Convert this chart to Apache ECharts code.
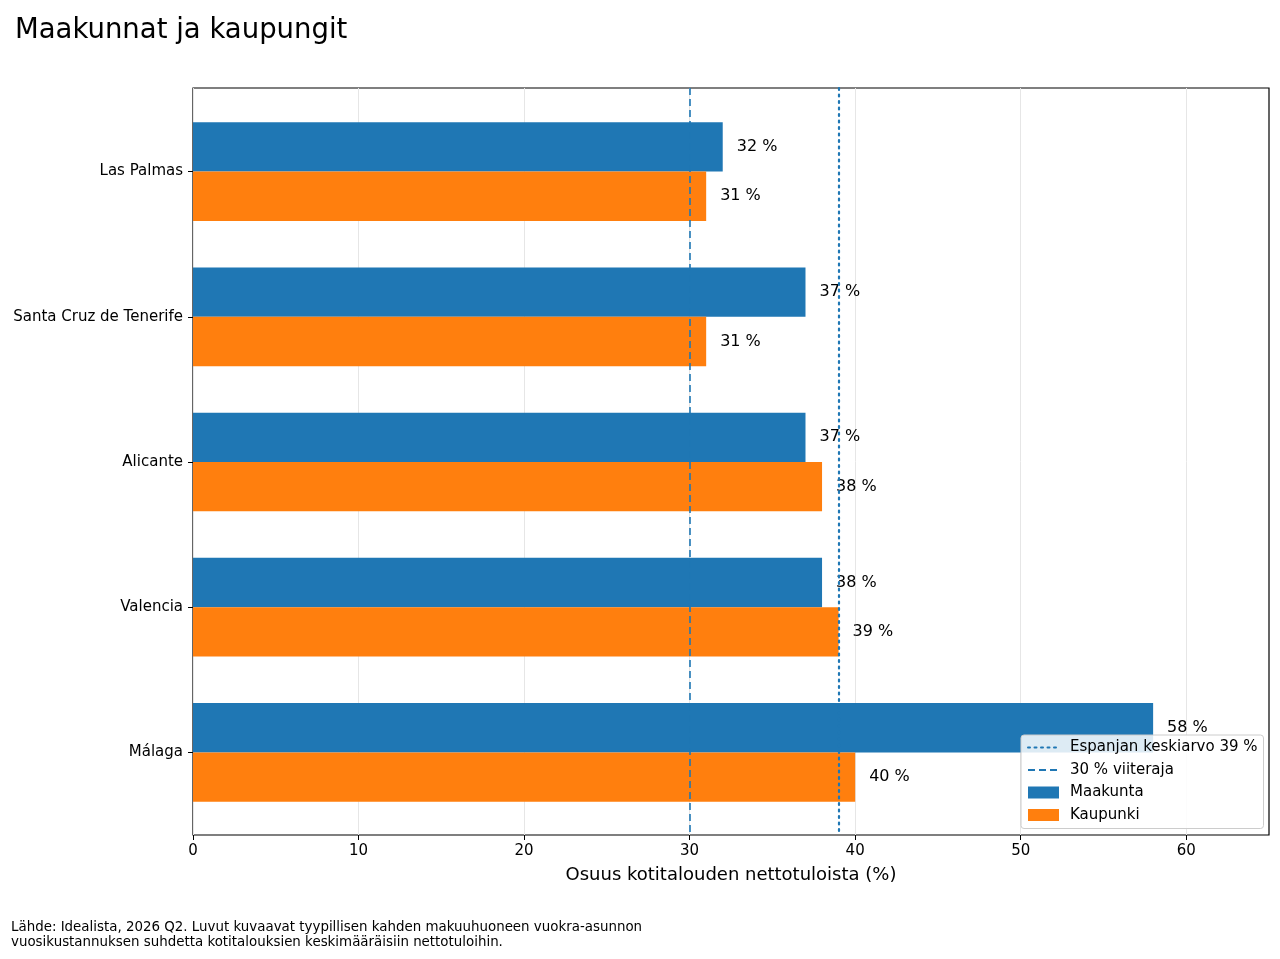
<!DOCTYPE html>
<html>
<head>
<meta charset="utf-8">
<script src="https://cdn.jsdelivr.net/npm/echarts@6/dist/echarts.min.js"></script>
<style>
  html, body { margin: 0; padding: 0; background: #fff; }
  #chart { width: 1280px; height: 959px; }
</style>
</head>
<body>
<div id="chart"></div>
<script>
// data
var categories = ['Las Palmas', 'Santa Cruz de Tenerife', 'Alicante', 'Valencia', 'Málaga'];
var maakunta = [32, 37, 37, 38, 58];
var kaupunki = [31, 31, 38, 39, 40];
var spainAvg = 39;
var refLimit = 30;
var xTicks = [0, 10, 20, 30, 40, 50, 60];

var FONT = 'DejaVu Sans';
var BLUE = '#1f77b4';
var ORANGE = '#ff7f0e';

var chart = echarts.init(document.getElementById('chart'));

var option = {
    animation: false,
    textStyle: { fontFamily: FONT, color: '#000' },
    title: [
        {
            text: 'Maakunnat ja kaupungit',
            left: 15, top: 17, padding: 0,
            textStyle: { fontFamily: FONT, fontSize: 27.5, fontWeight: 'normal', color: '#000' }
        },
        {
            text: 'Lähde: Idealista, 2026 Q2. Luvut kuvaavat tyypillisen kahden makuuhuoneen vuokra-asunnon\nvuosikustannuksen suhdetta kotitalouksien keskimääräisiin nettotuloihin.',
            left: 11, top: 920, padding: 0,
            textStyle: { fontFamily: FONT, fontSize: 13.4, fontWeight: 'normal', color: '#000', lineHeight: 15 }
        }
    ],
    legend: {
        orient: 'vertical',
        left: 1021, top: 735,
        backgroundColor: 'rgba(255,255,255,0.85)',
        borderColor: '#ccc', borderWidth: 1, borderRadius: 3,
        padding: [5, 6, 6, 6],
        itemWidth: 31, itemHeight: 12, itemGap: 7.5,
        textStyle: { fontFamily: FONT, fontSize: 15, color: '#000', padding: [0, 0, 0, 6] },
        data: [
            { name: 'Espanjan keskiarvo 39 %', itemStyle: { opacity: 0 } },
            { name: '30 % viiteraja', itemStyle: { opacity: 0 } },
            { name: 'Maakunta', icon: 'rect' },
            { name: 'Kaupunki', icon: 'rect' }
        ]
    },
    grid: [
        // frame grid (axes box, gridlines, reference lines)
        { left: 193, right: 11, top: 88, bottom: 124, show: true, borderColor: '#000', borderWidth: 1.2, backgroundColor: 'transparent' },
        // bars grid (inset like matplotlib margins)
        { left: 193, right: 11, top: 99, bottom: 134 }
    ],
    xAxis: [
        {
            gridIndex: 0, type: 'value', min: 0, max: 65, interval: 10,
            name: 'Osuus kotitalouden nettotuloista (%)',
            nameLocation: 'middle', nameGap: 31,
            nameTextStyle: { fontFamily: FONT, fontSize: 18, color: '#000' },
            axisLine: { show: false },
            axisTick: { show: true, length: 5, customValues: xTicks, lineStyle: { color: '#000' } },
            axisLabel: { fontFamily: FONT, fontSize: 15, color: '#000', margin: 9, customValues: xTicks },
            splitLine: { show: true, lineStyle: { color: '#e6e6e6', width: 1 } }
        },
        { gridIndex: 1, type: 'value', min: 0, max: 65, show: false }
    ],
    yAxis: [
        { gridIndex: 0, type: 'category', data: categories, inverse: true, show: false },
        {
            gridIndex: 1, type: 'category', data: categories, inverse: true,
            axisLine: { show: false },
            axisTick: { show: true, length: 5, alignWithLabel: true, lineStyle: { color: '#000' } },
            axisLabel: { fontFamily: FONT, fontSize: 15, color: '#000', margin: 10 }
        }
    ],
    series: [
        {
            name: 'Maakunta', type: 'bar', xAxisIndex: 1, yAxisIndex: 1,
            data: maakunta, barWidth: '34%', barGap: '0%', z: 2,
            itemStyle: { color: BLUE },
            label: { show: true, position: 'right', distance: 14, formatter: '{c} %', fontFamily: FONT, fontSize: 16, color: '#000' }
        },
        {
            name: 'Kaupunki', type: 'bar', xAxisIndex: 1, yAxisIndex: 1,
            data: kaupunki, barWidth: '34%', barGap: '0%', z: 2,
            itemStyle: { color: ORANGE },
            label: { show: true, position: 'right', distance: 14, formatter: '{c} %', fontFamily: FONT, fontSize: 16, color: '#000' }
        },
        {
            name: 'Espanjan keskiarvo 39 %', type: 'line', xAxisIndex: 0, yAxisIndex: 0,
            data: [], symbol: 'none', z: 5,
            itemStyle: { color: BLUE },
            lineStyle: { color: BLUE, width: 2.2, type: [2, 4.5], cap: 'round' },
            markLine: {
                silent: true, symbol: 'none', label: { show: false },
                lineStyle: { color: BLUE, width: 2.2, type: [2, 4.5], cap: 'round' },
                data: [{ xAxis: spainAvg }]
            }
        },
        {
            name: '30 % viiteraja', type: 'line', xAxisIndex: 0, yAxisIndex: 0,
            data: [], symbol: 'none', z: 5,
            itemStyle: { color: BLUE },
            lineStyle: { color: BLUE, width: 1.6, type: [7, 4] },
            markLine: {
                silent: true, symbol: 'none', label: { show: false },
                lineStyle: { color: BLUE, width: 1.6, type: [7, 4] },
                data: [{ xAxis: refLimit }]
            }
        }
    ]
};

chart.setOption(option);
</script>
</body>
</html>
